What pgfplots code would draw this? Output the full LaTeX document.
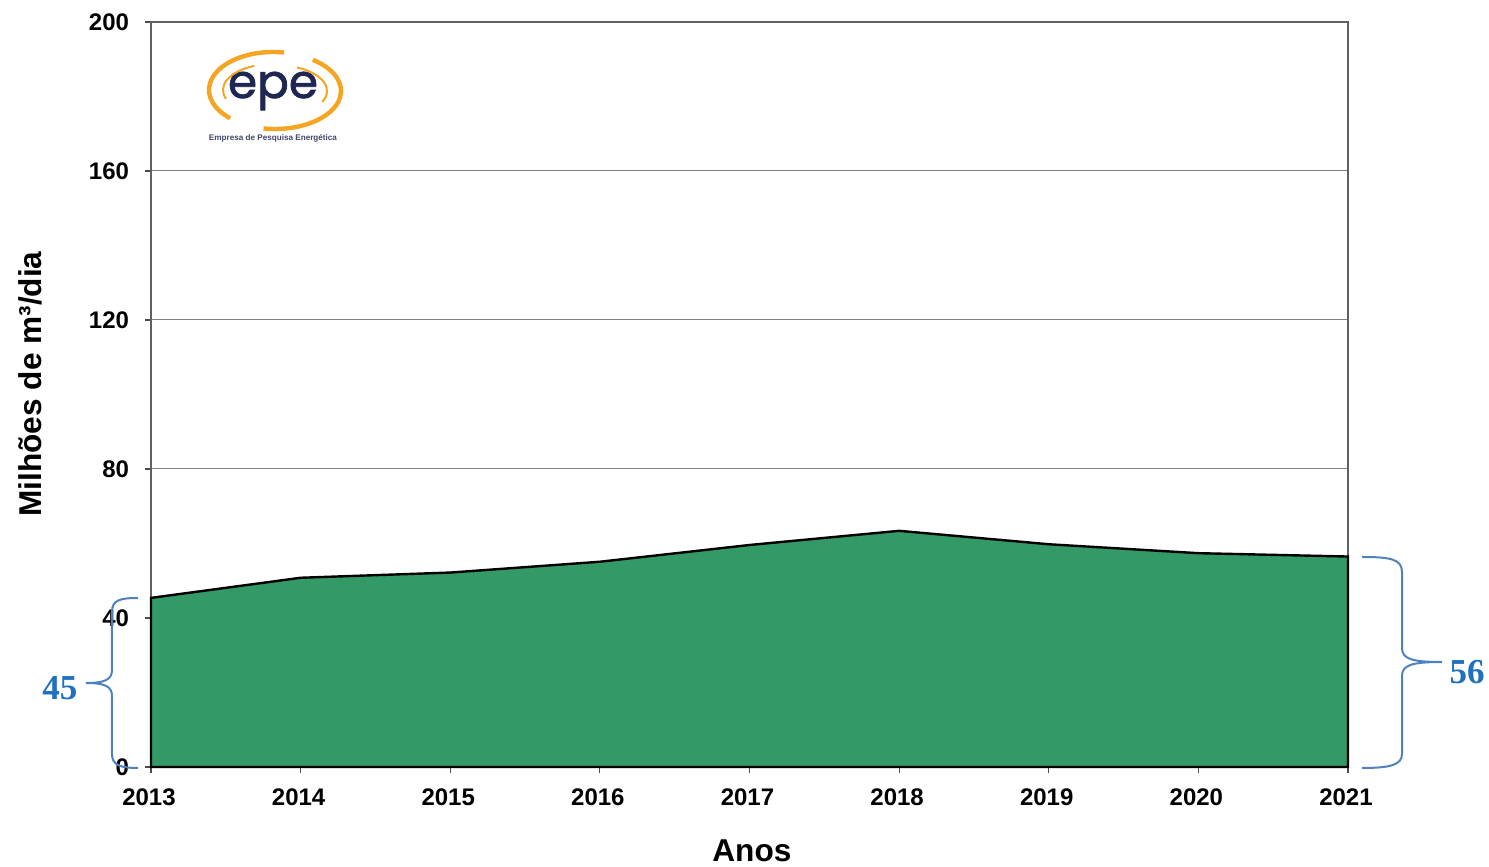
\documentclass[border=0pt]{standalone}
\usepackage{fontspec}
\setmainfont{Liberation Sans}
\newfontfamily\serifb{Liberation Serif}
\newfontfamily\epefont[FakeBold=1.5]{Poppins}
\usepackage{graphicx}
\usepackage{pgfplots}
\pgfplotsset{compat=1.18}
\definecolor{areagreen}{RGB}{51,153,102}
\definecolor{bracecol}{RGB}{79,129,189}
\definecolor{numblue}{RGB}{30,112,192}
\definecolor{epeorange}{RGB}{246,165,35}
\definecolor{epenavy}{RGB}{30,38,82}
\definecolor{gridgray}{RGB}{128,128,128}

\begin{document}
\begin{tikzpicture}
\begin{axis}[
  scale only axis, width=598.5pt, height=372.5pt,
  xmin=2013, xmax=2021, ymin=0, ymax=200,
  xtick={2013,2014,2015,2016,2017,2018,2019,2020,2021},
  xticklabels={2013,2014,2015,2016,2017,2018,2019,2020,2021},
  ytick={0,40,80,120,160,200},
  yticklabels={0,40,80,120,160,200},
  ymajorgrids, grid style={gridgray, line width=0.5pt},
  axis line style={gray!75!black, line width=0.8pt},
  tick align=outside, tick pos=left, major tick length=3pt,
  tick style={gray!60!black, line width=0.6pt},
  ticklabel style={font=\fontsize{12}{14}\selectfont\bfseries},
  xticklabel style={yshift=-4.5pt, xshift=-1pt},
  yticklabel style={xshift=-4.5pt},
  /pgf/number format/assume math mode=true,
  clip=false,
]
\addplot[fill=areagreen, draw=black, line width=1.2pt] coordinates {
  (2013,45.4) (2014,50.8) (2015,52.2) (2016,55.1) (2017,59.6)
  (2018,63.4) (2019,59.8) (2020,57.4) (2021,56.5)
} \closedcycle;
\node[rotate=90, font=\fontsize{15.8}{18}\selectfont\bfseries] at (rel axis cs:-0.101,0.514) {Milhões de m³/dia};
\node[font=\fontsize{15.8}{18}\selectfont\bfseries, inner sep=1pt] at (rel axis cs:0.502,-0.112) {Anos};
\end{axis}

% braces and numbers (pixel coordinates of the reference)
\begin{scope}[x=0.5pt,y=-0.5pt,shift={(-75.5pt,383.5pt)}]
  \draw[bracecol, line width=1pt]
    (138,598) .. controls (120,598) and (112,600) .. (112,612) -- (112,670)
    .. controls (112,680) and (104,683) .. (86,683)
    .. controls (104,683) and (112,686) .. (112,696) -- (112,754)
    .. controls (112,765) and (120,768) .. (138,768);
  \draw[bracecol, line width=1pt]
    (1362,557) .. controls (1390,557) and (1402,559) .. (1402,572) -- (1402,648)
    .. controls (1402,659) and (1412,662) .. (1442,662)
    .. controls (1412,662) and (1402,665) .. (1402,676) -- (1402,754)
    .. controls (1402,765) and (1390,768) .. (1362,768);
  \node[numblue, font=\serifb\bfseries\fontsize{17.5}{20}\selectfont] at (60,688) {45};
  \node[numblue, font=\serifb\bfseries\fontsize{17.5}{20}\selectfont] at (1467,672) {56};
  \node[epenavy, inner sep=0pt] at (273,91) {\resizebox{45pt}{!}{\epefont epe}};
  \node[epenavy!85, inner sep=0pt] at (273,138) {\resizebox{64pt}{!}{\bfseries Empresa de Pesquisa Energética}};
\end{scope}
% logo arcs
\draw[epeorange, line width=2.2pt] (61pt,338.5pt) ++(80:32pt and 19pt) arc[start angle=80, end angle=228, x radius=32pt, y radius=19pt];
\draw[epeorange, line width=1pt] (61pt,338.5pt) ++(112:25pt and 13pt) arc[start angle=112, end angle=200, x radius=25pt, y radius=13pt];
\draw[epeorange, line width=2.2pt] (62pt,338pt) ++(-100:33pt and 19pt) arc[start angle=-100, end angle=55, x radius=33pt, y radius=19pt];
\draw[epeorange, line width=1pt] (62pt,338pt) ++(-25:26pt and 13pt) arc[start angle=-25, end angle=65, x radius=26pt, y radius=13pt];

\pgfresetboundingbox
\path[use as bounding box] (-75.5pt,-50pt) rectangle (669pt,383.5pt);
\end{tikzpicture}
\end{document}
